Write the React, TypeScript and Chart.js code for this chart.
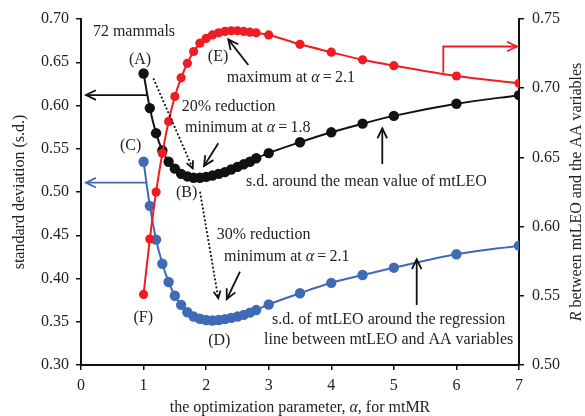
import React, { useEffect, useRef } from 'react';
import { Chart, registerables } from 'chart.js';

Chart.register(...registerables);

// optimization parameter alpha
const alphaValues = [1, 1.1, 1.2, 1.3, 1.4, 1.5, 1.6, 1.7, 1.8, 1.9, 2.0, 2.1, 2.2, 2.3, 2.4, 2.5, 2.6, 2.7, 2.8, 3, 3.5, 4, 4.5, 5, 6, 7];
// s.d. around the mean value of mtLEO (left axis)
const sdMean = [0.637, 0.597, 0.568, 0.548, 0.535, 0.527, 0.521, 0.518, 0.5165, 0.5165, 0.5175, 0.519, 0.521, 0.523, 0.526, 0.529, 0.532, 0.535, 0.539, 0.545, 0.5575, 0.569, 0.579, 0.588, 0.602, 0.612];
// s.d. of mtLEO around regression line (left axis)
const sdRegression = [0.535, 0.484, 0.445, 0.417, 0.396, 0.38, 0.3695, 0.361, 0.356, 0.3535, 0.352, 0.3515, 0.352, 0.353, 0.3545, 0.356, 0.358, 0.3605, 0.3635, 0.37, 0.383, 0.395, 0.404, 0.4125, 0.428, 0.438];
// R between mtLEO and the AA variables (right axis)
const corrR = [0.551, 0.591, 0.625, 0.653, 0.676, 0.694, 0.7075, 0.718, 0.7265, 0.7325, 0.736, 0.7385, 0.74, 0.741, 0.7415, 0.7415, 0.741, 0.7405, 0.74, 0.7385, 0.7317, 0.726, 0.7205, 0.7163, 0.7088, 0.7035];

const xTickValues = [0, 1, 2, 3, 4, 5, 6, 7];
const leftTickRange = [0.3, 0.7];
const rightTickRange = [0.5, 0.75];

const FONT = '"Liberation Serif", "Times New Roman", serif';
const TEXT_COLOR = '#222';
const BLACK = '#111111';
const RED = '#ee1c24';
const BLUE = '#3f6ab5';

type Seg = [string, boolean?];

// annotation texts in data coordinates (x, left-axis y)
const notes: { segs: Seg[]; x: number; y: number; align: CanvasTextAlign }[] = [
  { segs: [['72 mammals']], x: 0.19, y: 0.685, align: 'left' },
  { segs: [['(A)']], x: 0.943, y: 0.6526, align: 'center' },
  { segs: [['(C)']], x: 0.794, y: 0.5535, align: 'center' },
  { segs: [['(E)']], x: 2.19, y: 0.656, align: 'center' },
  { segs: [['maximum at '], ['α', true], ['\u2009=\u20092.1']], x: 2.33, y: 0.6321, align: 'left' },
  { segs: [['20% reduction']], x: 1.61, y: 0.5983, align: 'left' },
  { segs: [['minimum at '], ['α', true], ['\u2009=\u20091.8']], x: 1.662, y: 0.5743, align: 'left' },
  { segs: [['(B)']], x: 1.689, y: 0.4992, align: 'center' },
  { segs: [['s.d. around the mean value of mtLEO']], x: 2.637, y: 0.5119, align: 'left' },
  { segs: [['30% reduction']], x: 2.169, y: 0.4503, align: 'left' },
  { segs: [['minimum at '], ['α', true], ['\u2009=\u20092.1']], x: 2.285, y: 0.4252, align: 'left' },
  { segs: [['(F)']], x: 0.996, y: 0.3551, align: 'center' },
  { segs: [['(D)']], x: 2.21, y: 0.3281, align: 'center' },
  { segs: [['s.d. of mtLEO around the regression']], x: 4.918, y: 0.352, align: 'center' },
  { segs: [['line between mtLEO and AA variables']], x: 4.918, y: 0.329, align: 'center' },
];

// arrows: polyline in data coords, last point is head
const arrows: { pts: [number, number][]; color: string; dashed: boolean }[] = [
  { pts: [[1.055, 0.6121], [0.08, 0.6121]], color: BLACK, dashed: false },
  { pts: [[1.055, 0.5108], [0.08, 0.5108]], color: BLUE, dashed: false },
  { pts: [[5.79, 0.6379], [5.79, 0.6682], [6.968, 0.6682]], color: RED, dashed: false },
  { pts: [[2.674, 0.6468], [2.354, 0.6765]], color: BLACK, dashed: false },
  { pts: [[2.194, 0.5563], [1.966, 0.5301]], color: BLACK, dashed: false },
  { pts: [[1.156, 0.6314], [1.785, 0.5274]], color: BLACK, dashed: true },
  { pts: [[1.902, 0.5003], [2.194, 0.3771]], color: BLACK, dashed: true },
  { pts: [[2.541, 0.4079], [2.329, 0.376]], color: BLACK, dashed: false },
  { pts: [[4.815, 0.5324], [4.815, 0.5736]], color: BLACK, dashed: false },
  { pts: [[5.365, 0.3694], [5.365, 0.4222]], color: BLACK, dashed: false },
];

function drawRich(ctx: CanvasRenderingContext2D, segs: Seg[], x: number, y: number, align: CanvasTextAlign, size: number) {
  const fontFor = (it?: boolean) => `${it ? 'italic ' : ''}${size}px ${FONT}`;
  let total = 0;
  const widths = segs.map(([t, it]) => {
    ctx.font = fontFor(it);
    const w = ctx.measureText(t).width;
    total += w;
    return w;
  });
  let cx = align === 'center' ? x - total / 2 : align === 'right' ? x - total : x;
  ctx.textAlign = 'left';
  ctx.textBaseline = 'middle';
  segs.forEach(([t, it], i) => {
    ctx.font = fontFor(it);
    ctx.fillText(t, cx, y);
    cx += widths[i];
  });
}

const notesPlugin = {
  id: 'notes',
  afterDraw(chart: any) {
    const { ctx, chartArea, scales } = chart;
    const X = (v: number) => scales.x.getPixelForValue(v);
    const Y = (v: number) => scales.y.getPixelForValue(v);
    ctx.save();
    ctx.fillStyle = TEXT_COLOR;
    notes.forEach((n) => drawRich(ctx, n.segs, X(n.x), Y(n.y), n.align, 16));

    arrows.forEach((a) => {
      const p = a.pts.map(([x, y]) => [X(x), Y(y)]);
      ctx.strokeStyle = a.color;
      ctx.lineWidth = 1.8;
      ctx.setLineDash(a.dashed ? [2, 2] : []);
      ctx.beginPath();
      ctx.moveTo(p[0][0], p[0][1]);
      for (let i = 1; i < p.length; i++) ctx.lineTo(p[i][0], p[i][1]);
      ctx.stroke();
      ctx.setLineDash([]);
      const [x2, y2] = p[p.length - 1];
      const [x1, y1] = p[p.length - 2];
      const ang = Math.atan2(y2 - y1, x2 - x1);
      const len = a.dashed ? 8 : 11;
      const spread = a.dashed ? 0.45 : 0.45;
      ctx.lineWidth = 1.8;
      ctx.beginPath();
      ctx.moveTo(x2 - len * Math.cos(ang - spread), y2 - len * Math.sin(ang - spread));
      ctx.lineTo(x2, y2);
      ctx.lineTo(x2 - len * Math.cos(ang + spread), y2 - len * Math.sin(ang + spread));
      ctx.stroke();
    });

    // axis titles
    ctx.fillStyle = TEXT_COLOR;
    const midY = (chartArea.top + chartArea.bottom) / 2;
    drawRich(ctx, [['the optimization parameter, '], ['α', true], [', for mtMR']], (chartArea.left + chartArea.right) / 2, chartArea.bottom + 43, 'center', 16);
    ctx.save();
    ctx.translate(chartArea.left - 61, midY);
    ctx.rotate(-Math.PI / 2);
    drawRich(ctx, [['standard deviation (s.d.)']], 0, 0, 'center', 16);
    ctx.restore();
    ctx.save();
    ctx.translate(chartArea.right + 58, midY);
    ctx.rotate(-Math.PI / 2);
    drawRich(ctx, [['R', true], [' between mtLEO and the AA variables']], 0, 0, 'center', 16);
    ctx.restore();
    ctx.restore();
  },
};

function series(values: number[]) {
  return alphaValues.map((x, i) => ({ x, y: values[i] }));
}

export default function App() {
  const ref = useRef<HTMLCanvasElement>(null);
  useEffect(() => {
    if (!ref.current) return;
    const axisCommon = {
      grid: { drawOnChartArea: false, drawTicks: true, tickLength: 5, color: BLACK, lineWidth: 1.5 },
      border: { display: true, color: BLACK, width: 2 },
    };
    const tickFont = { family: FONT, size: 16 };
    const chart = new Chart(ref.current, {
      type: 'line',
      data: {
        datasets: [
          {
            data: series(corrR), yAxisID: 'y2', borderColor: RED, backgroundColor: RED,
            pointRadius: 4.6, pointBorderWidth: 0, borderWidth: 2, cubicInterpolationMode: 'monotone', order: 0,
          },
          {
            data: series(sdMean), yAxisID: 'y', borderColor: BLACK, backgroundColor: BLACK,
            pointRadius: 5.2, pointBorderWidth: 0, borderWidth: 2, cubicInterpolationMode: 'monotone', order: 1,
          },
          {
            data: series(sdRegression), yAxisID: 'y', borderColor: BLUE, backgroundColor: BLUE,
            pointRadius: 5.2, pointBorderWidth: 0, borderWidth: 2, cubicInterpolationMode: 'monotone', order: 2,
          },
        ],
      },
      options: {
        animation: false,
        responsive: false,
        maintainAspectRatio: false,
        layout: { padding: { top: 19, left: 0, right: 0, bottom: 0 } },
        plugins: { legend: { display: false }, tooltip: { enabled: false } },
        scales: {
          x: {
            type: 'linear', min: xTickValues[0], max: xTickValues[xTickValues.length - 1],
            ...axisCommon,
            afterBuildTicks: (s: any) => { s.ticks = xTickValues.map((v) => ({ value: v })); },
            ticks: { color: TEXT_COLOR, font: tickFont, padding: 6, maxRotation: 0, callback: (v: any) => String(v) },
            afterFit: (s: any) => { s.height = 51; },
          },
          y: {
            type: 'linear', position: 'left', min: leftTickRange[0], max: leftTickRange[1],
            ...axisCommon,
            ticks: { stepSize: 0.05, color: TEXT_COLOR, font: tickFont, padding: 7, callback: (v: any) => Number(v).toFixed(2) },
            afterFit: (s: any) => { s.width = 81; },
          },
          y2: {
            type: 'linear', position: 'right', min: rightTickRange[0], max: rightTickRange[1],
            ...axisCommon,
            ticks: { stepSize: 0.05, color: TEXT_COLOR, font: tickFont, padding: 8, callback: (v: any) => Number(v).toFixed(2) },
            afterFit: (s: any) => { s.width = 66; },
          },
        },
      } as any,
      plugins: [notesPlugin],
    });
    return () => chart.destroy();
  }, []);
  return (
    <div style={{ position: 'fixed', left: 0, top: 0, width: 585, height: 416, background: '#fff' }}>
      <canvas ref={ref} width={585} height={416} />
    </div>
  );
}
